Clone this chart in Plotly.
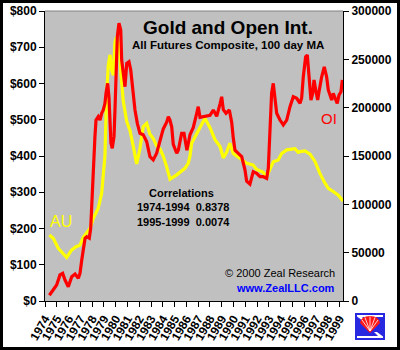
import plotly.graph_objects as go

# ---------------- data ----------------
gold_years = [1974.37, 1974.70, 1975.13, 1975.84, 1976.27, 1976.63, 1976.97, 1977.25, 1977.54, 1977.82,
              1978.10, 1978.52, 1978.81, 1978.95, 1979.09, 1979.22, 1979.37, 1979.52, 1979.66, 1979.80,
              1979.94, 1980.09, 1980.31, 1980.45, 1980.65, 1980.94, 1981.22, 1981.50, 1981.78, 1982.06,
              1982.34, 1982.63, 1982.91, 1983.19, 1983.48, 1983.76, 1984.04, 1984.33, 1984.61, 1985.18,
              1985.88, 1986.16, 1986.31, 1986.45, 1986.88, 1987.30, 1987.58, 1988.01, 1988.43, 1988.86,
              1989.14, 1989.42, 1989.70, 1989.98, 1990.41, 1990.70, 1991.12, 1991.40, 1991.68, 1991.97,
              1992.53, 1992.82, 1993.10, 1993.38, 1993.80, 1994.09, 1994.52, 1994.94, 1995.22, 1995.50,
              1995.65, 1996.07, 1996.50, 1996.92, 1997.34, 1997.77, 1998.05, 1998.47, 1998.90, 1999.30]
gold_price = [182, 173, 145, 120, 141, 150, 154, 176, 188, 200,
              228, 256, 297, 340, 400, 560, 650, 679, 637, 623,
              715, 729, 701, 625, 550, 495, 470, 426, 378, 420,
              481, 490, 460, 448, 428, 420, 400, 370, 336, 348,
              366, 380, 400, 435, 462, 490, 504, 478, 445, 426,
              395, 410, 435, 407, 398, 390, 380, 378, 375, 363,
              355, 343, 362, 384, 389, 407, 417, 418, 420, 410,
              412, 414, 405, 385, 352, 325, 311, 302, 292, 276]

oi_years = [1974.37, 1974.70, 1974.99, 1975.27, 1975.50, 1975.70, 1975.98, 1976.27, 1976.55, 1976.83,
            1976.97, 1977.12, 1977.25, 1977.40, 1977.54, 1977.76, 1977.88, 1977.96, 1978.05, 1978.16,
            1978.24, 1978.33, 1978.52, 1978.67, 1978.81, 1978.95, 1979.09, 1979.18, 1979.32, 1979.43,
            1979.52, 1979.60, 1979.71, 1979.86, 1979.94, 1980.03, 1980.14, 1980.28, 1980.43, 1980.51,
            1980.65, 1980.79, 1980.94, 1981.13, 1981.28, 1981.44, 1981.64, 1981.84, 1982.06, 1982.34,
            1982.63, 1982.91, 1983.19, 1983.48, 1983.76, 1984.04, 1984.33, 1984.47, 1984.61, 1984.76,
            1984.89, 1985.18, 1985.32, 1985.60, 1985.80, 1985.97, 1986.05, 1986.31, 1986.59, 1986.88,
            1987.01, 1987.16, 1987.58, 1988.01, 1988.29, 1988.58, 1988.86, 1989.00, 1989.14, 1989.37,
            1989.65, 1989.85, 1989.99, 1990.13, 1990.41, 1990.70, 1990.98, 1991.12, 1991.40, 1991.68,
            1991.97, 1992.25, 1992.53, 1992.82, 1992.96, 1993.04, 1993.10, 1993.24, 1993.38, 1993.52,
            1993.67, 1993.95, 1994.23, 1994.52, 1994.80, 1995.08, 1995.37, 1995.65, 1995.79, 1995.93,
            1996.13, 1996.27, 1996.41, 1996.58, 1996.73, 1996.84, 1997.01, 1997.15, 1997.29, 1997.49,
            1997.71, 1997.91, 1998.05, 1998.34, 1998.47, 1998.68, 1998.81, 1998.96, 1999.13, 1999.24]
open_interest = [6000, 11000, 16500, 27000, 28600, 21700, 14800, 25100, 27900, 23500,
                 28600, 42400, 54500, 64900, 66500, 64900, 75200, 101000, 128600, 153000,
                 170000, 187200, 190700, 187200, 194200, 197600, 204500, 214900, 225200, 211300,
                 187200, 163100, 158000, 170000, 197600, 232000, 273400, 287300, 280300, 249300,
                 232000, 221700, 245900, 247600, 239000, 218300, 197600, 183800, 173500, 172000,
                 165000, 149300, 146000, 152800, 166600, 178000, 185000, 190700, 187200, 180000,
                 162000, 152800, 156000, 173500, 173500, 160000, 156000, 172000, 179500, 194200,
                 201000, 190000, 190700, 192000, 197600, 191000, 204000, 211300, 198000, 194200,
                 197600, 185000, 168000, 156000, 152800, 149300, 135500, 124000, 121000, 133800,
                 132100, 128600, 128600, 126900, 137300, 156000, 180300, 214900, 225200, 207900,
                 194200, 187200, 182100, 187200, 201000, 211300, 209700, 204500, 210000, 232000,
                 252700, 254500, 232000, 207900, 214900, 228600, 216500, 207900, 218300, 232000,
                 242300, 232000, 218300, 207900, 214900, 207900, 204500, 213100, 216500, 228600]

year_ticks = list(range(1974, 2000))
year_labels = [str(y) for y in year_ticks]
price_ticks = [0, 100, 200, 300, 400, 500, 600, 700, 800]
price_labels = ["$" + str(v) for v in price_ticks]
oi_ticks = [0, 50000, 100000, 150000, 200000, 250000, 300000]
oi_labels = [str(v) for v in oi_ticks]

# ---------------- layout helpers (pixel -> paper) ----------------
W, H = 400, 350
L, R, T, B = 45, 343, 11, 301


def px(x):
    return (x - L) / (R - L)


def py(y):
    return (B - y) / (B - T)


FONT = "Liberation Sans, Arial, sans-serif"

fig = go.Figure()
fig.add_trace(go.Scatter(x=oi_years, y=open_interest, mode="lines", yaxis="y2",
                         line=dict(color="#FF0000", width=3.2), hoverinfo="skip"))
fig.add_trace(go.Scatter(x=gold_years, y=gold_price, mode="lines",
                         line=dict(color="#FFFF00", width=3.2), hoverinfo="skip"))

fig.update_layout(
    width=W, height=H, template="none", showlegend=False,
    margin=dict(l=L, r=W - R, t=T, b=H - B, pad=0),
    paper_bgcolor="white", plot_bgcolor="#C0C0C0",
    font=dict(family=FONT, color="black"),
    xaxis=dict(range=[1974, 1999.3], tickvals=year_ticks, ticktext=year_labels,
               tickangle=-60, ticks="outside", ticklen=5, tickcolor="black",
               showline=True, linecolor="black", linewidth=1, showgrid=False, zeroline=False,
               tickfont=dict(size=12, weight="bold", family=FONT), automargin=False),
    yaxis=dict(range=[0, 800], tickvals=price_ticks, ticktext=price_labels,
               ticks="outside", ticklen=5, tickcolor="black",
               showline=True, linecolor="black", linewidth=1, showgrid=False, zeroline=False,
               tickfont=dict(size=12, weight="bold", family=FONT), automargin=False),
    yaxis2=dict(range=[0, 300000], tickvals=oi_ticks, ticktext=oi_labels, overlaying="y", side="right",
                ticks="outside", ticklen=5, tickcolor="black",
                showline=True, linecolor="black", linewidth=1, showgrid=False, zeroline=False,
                tickfont=dict(size=12, weight="bold", family=FONT), automargin=False),
)


def poly(points, fill, line_color=None, lw=0):
    d = "M " + " L ".join(f"{px(a)},{py(b)}" for a, b in points) + " Z"
    return dict(type="path", xref="paper", yref="paper", path=d, fillcolor=fill,
                line=dict(color=line_color or fill, width=lw))


shapes = [
    # top border of plot area
    dict(type="line", xref="paper", yref="paper", x0=0, x1=1, y0=1, y1=1,
         line=dict(color="#808080", width=1)),
    # outer black frame
    dict(type="rect", xref="paper", yref="paper", x0=px(1.5), x1=px(398.5), y0=py(1.5), y1=py(348.5),
         line=dict(color="black", width=3)),
    # logo: blue tile
    dict(type="rect", xref="paper", yref="paper", x0=px(355), x1=px(385), y0=py(313), y1=py(340),
         fillcolor="#2828E0", line=dict(width=0)),
    # white Z strokes (top and bottom)
    poly([(357, 315), (383, 315), (383, 317), (362, 317), (366, 321), (363, 321), (357, 316.5)], "white"),
    poly([(357, 336), (378, 336), (374, 332), (377, 332), (383, 336.5), (383, 338), (357, 338)], "white"),
    # red fan / shell
    dict(type="path", xref="paper", yref="paper",
         path=(f"M {px(370)},{py(333)} L {px(360)},{py(323)} "
               f"Q {px(361)},{py(316)} {px(370)},{py(316)} "
               f"Q {px(379)},{py(316)} {px(380)},{py(323)} Z"),
         fillcolor="#FF1818", line=dict(width=0)),
]
for a in [(362, 320), (365, 317.5), (370, 316.5), (375, 317.5), (378, 320)]:
    shapes.append(dict(type="line", xref="paper", yref="paper",
                       x0=px(370), y0=py(331), x1=px(a[0]), y1=py(a[1]),
                       line=dict(color="white", width=0.8)))
fig.update_layout(shapes=shapes)


def ann(text, x, y, size, color="black", bold=False, xanchor="center"):
    fig.add_annotation(text=text, x=px(x), y=py(y), xref="paper", yref="paper",
                       xanchor=xanchor, yanchor="middle", showarrow=False,
                       font=dict(size=size, color=color, family=FONT, weight="bold" if bold else "normal"))


ann("Gold and Open Int.", 228, 27, 19, bold=True)
ann("All Futures Composite, 100 day MA", 228, 45.5, 11.5, bold=True)
ann("OI", 329, 119, 15, color="#FF0000")
ann("AU", 61, 221, 16, color="#FFFF00")
ann("Correlations", 181, 193, 11, bold=True)
ann("1974-1994\u00a0\u00a00.8378", 135, 207, 11, bold=True, xanchor="left")
ann("1995-1999\u00a0\u00a00.0074", 135, 222, 11, bold=True, xanchor="left")
ann("\u00a9 2000 Zeal Research", 337, 273, 11, xanchor="right")
ann("www.ZealLLC.com", 337, 288, 11, color="#0000FF", bold=True, xanchor="right")

fig.write_html("out.html")
